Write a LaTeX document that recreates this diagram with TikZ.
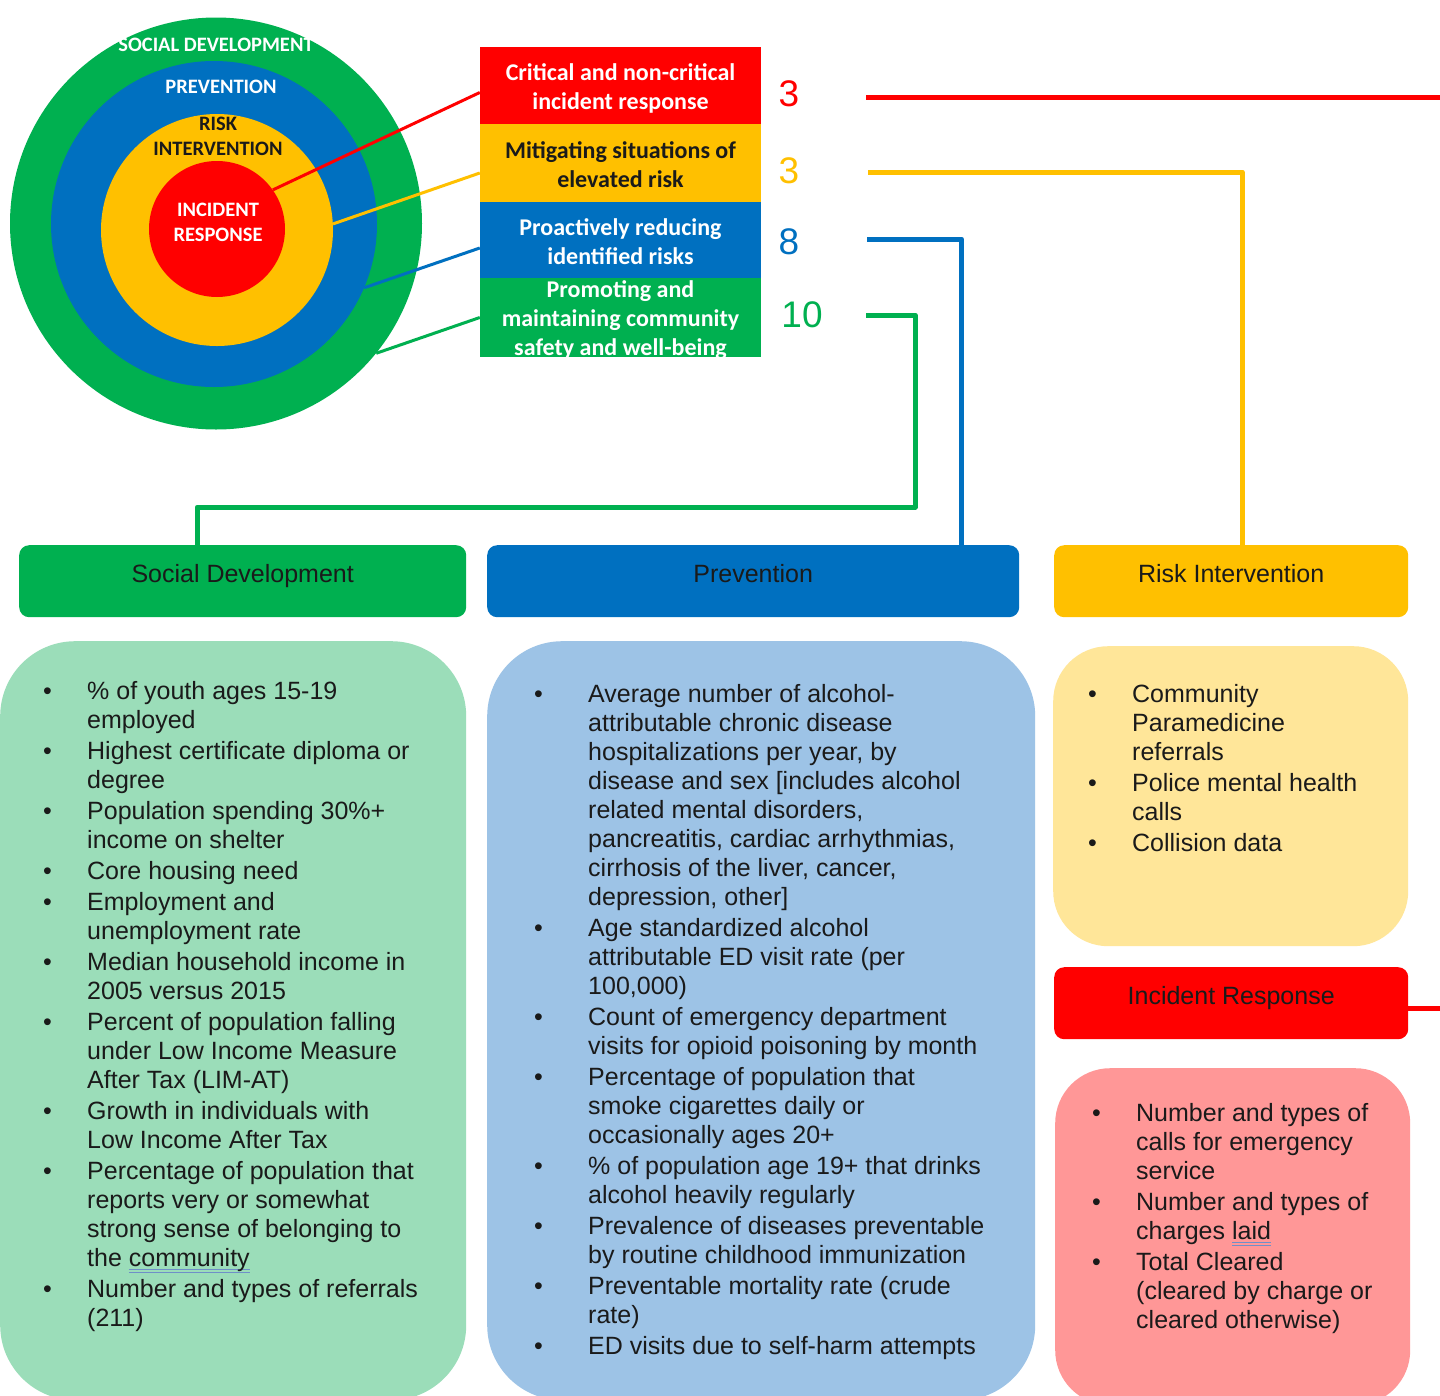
\documentclass[tikz,border=0pt]{standalone}
\usepackage{fontspec}
\setmainfont{Liberation Sans}
\newfontfamily\carlito{Carlito}
\usetikzlibrary{calc}
\definecolor{cgreen}{HTML}{00B050}
\definecolor{cblue}{HTML}{0070C0}
\definecolor{cyellow}{HTML}{FFC000}
\definecolor{cred}{HTML}{FF0000}
\definecolor{lgreen}{HTML}{9BDDB9}
\definecolor{lblue}{HTML}{9DC3E6}
\definecolor{lyellow}{HTML}{FFE699}
\definecolor{lpink}{HTML}{FF9797}
\definecolor{txt}{HTML}{1A1A1A}
\definecolor{gram}{HTML}{6F8FC8}
\newcommand{\gramul}[1]{\setbox0=\hbox{#1}\rlap{\color{gram}\rule[-4pt]{\wd0}{0.9pt}\hspace*{-\wd0}\rule[-6.5pt]{\wd0}{0.9pt}}#1}
\newcommand{\listfont}{\fontsize{25}{29}\selectfont}
\begin{document}
\begin{tikzpicture}[x=1pt,y=-1pt,
  ring/.style={circle,inner sep=0pt},
  ringlabel/.style={font=\carlito\bfseries\fontsize{20.5}{25}\selectfont,align=center,inner sep=0pt},
  tbox/.style={rectangle,inner sep=0pt,minimum width=281pt},
  tlabel/.style={inner sep=0pt,align=center,font=\carlito\bfseries\fontsize{24}{29}\selectfont,text=white},
  num/.style={inner sep=0pt,font=\fontsize{37}{40}\selectfont},
  feed/.style={line width=3pt},
  route/.style={line width=5pt,line join=round},
  hdr/.style={rectangle,rounded corners=10pt,minimum height=72pt,inner sep=0pt,anchor=north west,
    font=\fontsize{25}{29}\selectfont,text=txt,text height=18pt,text depth=16pt},
  panel/.style={rectangle,inner sep=0pt,anchor=north west},
  lst/.style={anchor=base west,inner sep=0pt,font=\listfont,text=txt}]
\useasboundingbox (0,0) rectangle (1440,1395);
\fill[white] (0,0) rectangle (1440,1395);

% target circles
\node[ring,fill=cgreen,minimum size=412pt] (cG) at (216,223.5) {};
\node[ring,fill=cblue,minimum size=326pt] (cB) at (214,224) {};
\node[ring,fill=cyellow,minimum size=232pt] (cY) at (217,230) {};
\node[ring,fill=cred,minimum size=136pt] (cR) at (217,229) {};
\node[ringlabel,text=white] (lG) at (216,45) {SOCIAL DEVELOPMENT};
\node[ringlabel,text=white] (lB) at (221,87) {PREVENTION};
\node[ringlabel,text=txt] (lY) at (218,136.5) {RISK\\INTERVENTION};
\node[ringlabel,text=white] (lR) at (218,222.5) {INCIDENT\\RESPONSE};

% stacked boxes
\node[tbox,fill=cred,minimum height=77pt] (tb1) at (620.5,85.5) {};
\node[tbox,fill=cyellow,minimum height=78pt] (tb2) at (620.5,163) {};
\node[tbox,fill=cblue,minimum height=76pt] (tb3) at (620.5,240) {};
\node[tbox,fill=cgreen,minimum height=79pt] (tb4) at (620.5,317.5) {};
\node[tlabel] (tt1) at ($(tb1.center)+(0,2.5)$) {Critical and non-critical\\incident response};
\node[tlabel,text=txt] (tt2) at ($(tb2.center)+(0,2)$) {Mitigating situations of\\elevated risk};
\node[tlabel] (tt3) at ($(tb3.center)+(0,2)$) {Proactively reducing\\identified risks};
\node[tlabel] (tt4) at ($(tb4.center)+(0,2.5)$) {Promoting and\\maintaining community\\safety and well-being};

% feeders from rings to boxes
\draw[feed,cred] (cR.35) -- ($(tb1.west)+(0,7)$);
\draw[feed,cyellow] (cY.3) -- ($(tb2.west)+(0,10)$);
\draw[feed,cblue] (cB.-23) -- ($(tb3.west)+(0,8)$);
\draw[feed,cgreen] (cG.-39) -- (tb4.west);

% counts
\node[num,text=cred] (n1) at (789,94) {3};
\node[num,text=cyellow] (n2) at (789,171) {3};
\node[num,text=cblue] (n3) at (789,242) {8};
\node[num,text=cgreen] (n4) at (802,315) {10};

% headers
\node[hdr,fill=cgreen,minimum width=447pt] (sdhdr) at (19,545) {Social Development};
\node[hdr,fill=cblue,minimum width=532pt] (pvhdr) at (487,545) {Prevention};
\node[hdr,fill=cyellow,minimum width=354pt] (rihdr) at (1054,545) {Risk Intervention};
\node[hdr,fill=cred,minimum width=354pt] (irhdr) at (1054,967) {Incident Response};

% routes
\coordinate (r0) at (866,97);
\coordinate (rc) at (1443,97);
\coordinate (y0) at (868,172);
\coordinate (b0) at (867,239);
\coordinate (g0) at (866,315);
\coordinate (gc) at (915,507);
\draw[route,cred] (r0) -- (rc) |- ($(irhdr.east)+(0,5)$);
\draw[route,cyellow] (y0) -| ([xshift=11pt]rihdr.north);
\draw[route,cblue] (b0) -| ([xshift=-58pt]pvhdr.north east);
\draw[route,cgreen] (g0) -| (gc) -| ([xshift=-45.5pt]sdhdr.north);

% panels
\node[panel,fill=lgreen,rounded corners=75pt,minimum width=466pt,minimum height=759pt] (sdpanel) at (0,641) {};
\node[panel,fill=lblue,rounded corners=75pt,minimum width=548pt,minimum height=759pt] (pvpanel) at (487,641) {};
\node[panel,fill=lyellow,rounded corners=55pt,minimum width=355pt,minimum height=300pt] (ripanel) at (1053,646) {};
\node[panel,fill=lpink,rounded corners=55pt,minimum width=355pt,minimum height=337pt] (irpanel) at (1055,1068) {};

% lists
\node[lst] (sdlist) at (43,699) {\begin{tabular}[t]{@{}p{44pt}@{}l@{}}
\textbullet & \% of youth ages 15-19\\
 & employed\\[2pt]
\textbullet & Highest certificate diploma or\\
 & degree\\[2pt]
\textbullet & Population spending 30\%+\\
 & income on shelter\\[2pt]
\textbullet & Core housing need\\[2pt]
\textbullet & Employment and\\
 & unemployment rate\\[2pt]
\textbullet & Median household income in\\
 & 2005 versus 2015\\[2pt]
\textbullet & Percent of population falling\\
 & under Low Income Measure\\
 & After Tax (LIM-AT)\\[2pt]
\textbullet & Growth in individuals with\\
 & Low Income After Tax\\[2pt]
\textbullet & Percentage of population that\\
 & reports very or somewhat\\
 & strong sense of belonging to\\
 & the \gramul{community}\\[2pt]
\textbullet & Number and types of referrals\\
 & (211)
\end{tabular}};

\node[lst] (pvlist) at (534,702) {\begin{tabular}[t]{@{}p{54pt}@{}l@{}}
\textbullet & Average number of alcohol-\\
 & attributable chronic disease\\
 & hospitalizations per year, by\\
 & disease and sex [includes alcohol\\
 & related mental disorders,\\
 & pancreatitis, cardiac arrhythmias,\\
 & cirrhosis of the liver, cancer,\\
 & depression, other]\\[2pt]
\textbullet & Age standardized alcohol\\
 & attributable ED visit rate (per\\
 & 100,000)\\[2pt]
\textbullet & Count of emergency department\\
 & visits for opioid poisoning by month\\[2pt]
\textbullet & Percentage of population that\\
 & smoke cigarettes daily or\\
 & occasionally ages 20+\\[2pt]
\textbullet & \% of population age 19+ that drinks\\
 & alcohol heavily regularly\\[2pt]
\textbullet & Prevalence of diseases preventable\\
 & by routine childhood immunization\\[2pt]
\textbullet & Preventable mortality rate (crude\\
 & rate)\\[2pt]
\textbullet & ED visits due to self-harm attempts
\end{tabular}};

\node[lst] (rilist) at (1088,702) {\begin{tabular}[t]{@{}p{44pt}@{}l@{}}
\textbullet & Community\\
 & Paramedicine\\
 & referrals\\[2pt]
\textbullet & Police mental health\\
 & calls\\[2pt]
\textbullet & Collision data
\end{tabular}};

\node[lst] (irlist) at (1092,1121) {\begin{tabular}[t]{@{}p{44pt}@{}l@{}}
\textbullet & Number and types of\\
 & calls for emergency\\
 & service\\[2pt]
\textbullet & Number and types of\\
 & charges \gramul{laid}\\[2pt]
\textbullet & Total Cleared\\
 & (cleared by charge or\\
 & cleared otherwise)
\end{tabular}};
\end{tikzpicture}
\end{document}
